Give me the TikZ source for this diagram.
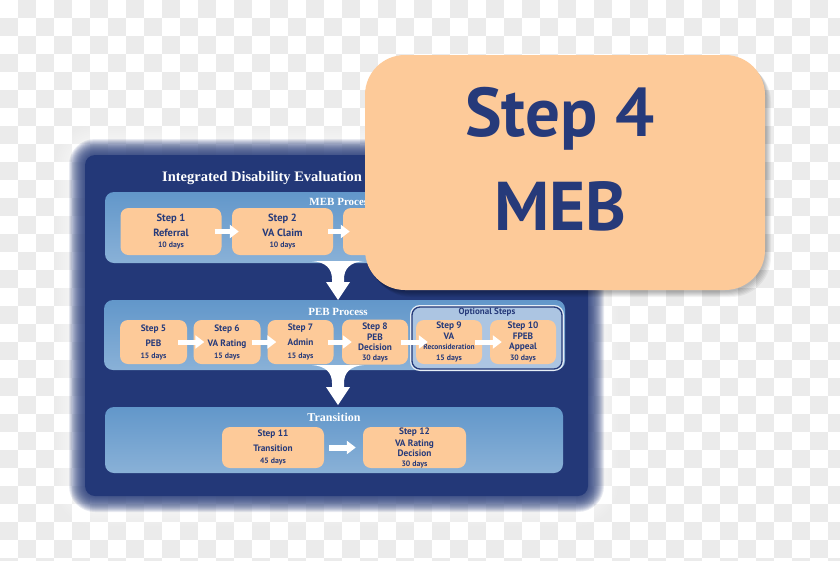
\documentclass[tikz,border=0pt]{standalone}
\usepackage{fontspec}
\setmainfont{Liberation Serif}
\newfontfamily\ptsans{PT Sans}
\usetikzlibrary{arrows.meta}
\definecolor{navy}{RGB}{35,56,120}
\definecolor{textnavy}{RGB}{38,58,122}
\definecolor{panelblue}{RGB}{98,151,202}
\definecolor{peach}{RGB}{253,202,153}
\definecolor{optblue}{RGB}{172,197,226}
\definecolor{checker}{RGB}{235,235,235}
\tikzset{
  panel/.style={rounded corners=9pt, top color=panelblue, middle color=panelblue, bottom color=panelblue!75!white, inner sep=0pt},
  paneltitle/.style={text=white, font=\bfseries\fontsize{11}{12}\selectfont, inner sep=0pt},
  stepbox/.style={fill=peach, rounded corners=8pt, text=textnavy, align=center, inner sep=0pt},
  bigf/.style={font={\ptsans\bfseries\fontsize{10.5}{11}\selectfont}},
  smallf/.style={font={\ptsans\bfseries\fontsize{9.3}{10}\selectfont}},
  wharrow/.style={draw=white, line width=5pt, -{Triangle[width=13pt,length=9pt]}},
  bigtext/.style={text=textnavy, font={\ptsans\bfseries\fontsize{69}{70}\selectfont}, inner sep=0pt},
}
\newcommand\daysf{\fontsize{7.8}{8}\selectfont}
\newcommand\funnelarrow[2]{%
  \fill[white, shift={(#1)}] (-26,0) .. controls (-12,1) and (-6,8) .. (-6,18) -- (-6,{#2-18}) -- (-12,{#2-18}) -- (0,#2) -- (12,{#2-18}) -- (6,{#2-18}) -- (6,18) .. controls (6,8) and (12,1) .. (26,0) -- cycle;}
\begin{document}
\begin{tikzpicture}[x=1pt,y=-1pt]
\useasboundingbox (0,0) rectangle (840,560);
% transparency checkerboard
\fill[white] (0,0) rectangle (840,560);
\foreach \i in {0,...,46}{\foreach \j in {0,...,15}{\fill[checker] ({\i*18},{(2*\j+mod(\i+1,2))*18}) rectangle +(18,18);}}
% halo and blurred dark frame
\foreach \k in {30,28,...,2}{\fill[white, opacity=0.09, rounded corners={12+\k}] ({85-\k},{155-\k}) rectangle ({588+\k},{496+\k});}
\foreach \k in {16,15,...,1}{\fill[navy, opacity=0.1, rounded corners={10+\k}] ({85-\k},{155-\k}) rectangle ({588+\k},{496+\k});}
\fill[navy, rounded corners=10] (85,155) rectangle (588,496);
\node[anchor=west, text=white, font=\bfseries\fontsize{14.5}{15}\selectfont, inner sep=0pt] (title) at (162,178) {Integrated Disability Evaluation System (IDES)};
% panels
\node[panel, minimum width=470pt, minimum height=71pt] (meb) at (340,227.5) {};
\node[paneltitle] (mebt) at (341,202) {MEB Process};
\node[panel, minimum width=461pt, minimum height=70pt] (peb) at (334.5,335) {};
\node[paneltitle] (pebt) at (338,312) {PEB Process};
\node[panel, minimum width=458pt, minimum height=66pt] (trans) at (334,440) {};
\node[paneltitle, font=\bfseries\fontsize{12}{13}\selectfont] (transt) at (334,417) {Transition};
\node[rounded corners=8pt, fill=optblue, draw=navy, line width=1.3pt, preaction={draw=white!70!optblue, line width=4pt}, minimum width=150pt, minimum height=62pt, inner sep=0pt] (opt) at (487,338) {};
\node[text=textnavy, font={\ptsans\bfseries\fontsize{9}{10}\selectfont}, inner sep=0pt] (optt) at (487,312) {Optional Steps};
% MEB row
\node[stepbox, bigf, minimum width=101pt, minimum height=47pt] (s1) at (171,231.5) {Step 1\\[4pt]Referral\\{\daysf 10 days}};
\node[stepbox, bigf, minimum width=101pt, minimum height=47pt] (s2) at (282.5,231.5) {Step 2\\[4pt]VA Claim\\{\daysf 10 days}};
\node[stepbox, minimum width=100pt, minimum height=47pt] (s3) at (393,231.5) {};
\draw[wharrow] ([xshift=-7pt]s1.east) -- ([xshift=7pt]s2.west);
\draw[wharrow] ([xshift=-5pt]s2.east) -- ([xshift=7pt]s3.west);
% PEB row
\node[stepbox, smallf, minimum width=67pt, minimum height=44pt] (s5) at (153.5,342) {Step 5\\[5pt]PEB\\[2pt]{\daysf 15 days}};
\node[stepbox, smallf, minimum width=67pt, minimum height=44pt] (s6) at (227,342) {Step 6\\[5pt]VA Rating\\[2pt]{\daysf 15 days}};
\node[stepbox, smallf, minimum width=66pt, minimum height=44pt] (s7) at (300.5,342) {Step 7\\[5pt]Admin\\[3pt]{\daysf 15 days}};
\node[stepbox, smallf, minimum width=66pt, minimum height=45pt] (s8) at (375,342) {Step 8\\[1pt]PEB\\Decision\\{\daysf 30 days}};
\node[stepbox, smallf, minimum width=66pt, minimum height=44pt] (s9) at (449,342) {Step 9\\[1pt]VA\\{\fontsize{7.5}{8}\selectfont Reconsideration}\\[1pt]{\daysf 15 days}};
\node[stepbox, smallf, minimum width=66pt, minimum height=44pt] (s10) at (523,342) {Step 10\\[1pt]FPEB\\Appeal\\[1pt]{\daysf 30 days}};
\draw[wharrow] ([xshift=-9pt]s5.east) -- ([xshift=11pt]s6.west);
\draw[wharrow] ([xshift=-9pt]s6.east) -- ([xshift=9pt]s7.west);
\draw[wharrow] ([xshift=-6pt]s7.east) -- ([xshift=10pt]s8.west);
\draw[wharrow] ([xshift=-7pt]s8.east) -- ([xshift=12pt]s9.west);
\draw[wharrow] ([xshift=-7pt]s9.east) -- ([xshift=12pt]s10.west);
% Transition row
\node[stepbox, smallf, minimum width=102pt, minimum height=41pt] (s11) at (273,447.5) {Step 11\\[5pt]Transition\\[2pt]{\daysf 45 days}};
\node[stepbox, smallf, minimum width=103pt, minimum height=41pt] (s12) at (414.5,447.5) {Step 12\\[2pt]VA Rating\\Decision\\{\daysf 30 days}};
\draw[wharrow, line width=6pt] ([xshift=5pt]s11.east) -- ([xshift=-7pt]s12.west);
% down arrows between panels
\coordinate (d1) at (338,261);
\coordinate (d2) at (338,365);
\funnelarrow{d1}{39}
\funnelarrow{d2}{40}
% Step 4 overlay with soft shadow
\foreach \k in {1,...,6}{\fill[black, opacity=0.05, rounded corners=40pt] ({365+\k},{55+\k+1}) rectangle ({765+\k},{290+\k+1});}
\node[fill=peach, rounded corners=40pt, minimum width=400pt, minimum height=235pt, inner sep=0pt] (s4) at (565,172.5) {};
\node[bigtext, anchor=base] (s4a) at (560,136) {Step 4};
\node[bigtext, anchor=base] (s4b) at (560,230) {MEB};
\end{tikzpicture}
\end{document}
